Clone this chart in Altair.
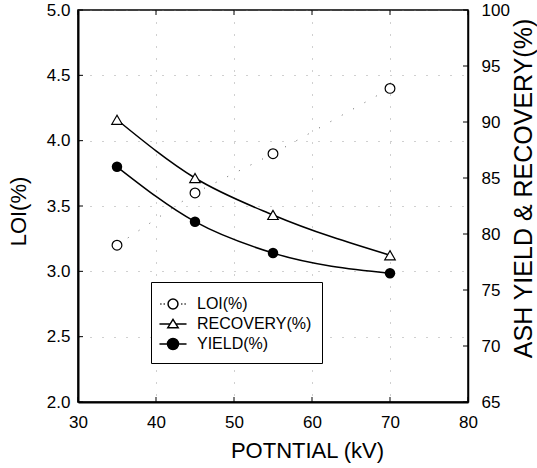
import altair as alt
import pandas as pd

# ---- data ----
potential = [35, 45, 55, 70]
loi = [3.2, 3.6, 3.9, 4.4]
recovery = [90.2, 85.0, 81.7, 78.1]
yield_pct = [86.0, 81.1, 78.3, 76.5]
x_ticks = [30, 40, 50, 60, 70, 80]
loi_ticks = [2.0, 2.5, 3.0, 3.5, 4.0, 4.5, 5.0]
right_ticks = [65, 70, 75, 80, 85, 90, 95, 100]
series = ["LOI(%)", "RECOVERY(%)", "YIELD(%)"]

FONT = "Liberation Sans"
W, H = 390, 392

df = pd.DataFrame({"kv": potential, "loi": loi, "rec": recovery, "yld": yield_pct})
xt = pd.DataFrame({"kv": x_ticks})
lt = pd.DataFrame({"loi": loi_ticks})
rt = pd.DataFrame({"v": right_ticks})

xscale = alt.Scale(domain=[30, 80], nice=False, zero=False)
lscale = alt.Scale(domain=[2, 5], nice=False, zero=False)
rscale = alt.Scale(domain=[65, 100], nice=False, zero=False)

x_axis = alt.Axis(
    values=x_ticks, format="d", title="POTNTIAL (kV)",
    ticks=False, tickSize=0, labelPadding=12, labelFlush=False, labelOverlap=False,
    labelFont=FONT, labelFontSize=17, labelColor="black",
    titleFont=FONT, titleFontSize=22, titleFontWeight="normal", titleColor="black",
    titleX=229, titleY=55, titleAlign="center", titleBaseline="alphabetic",
    domainColor="black", domainWidth=2,
    grid=True, gridColor="#777", gridDash=[1, 11], gridWidth=1, gridOpacity=0.7,
)
left_axis = alt.Axis(
    values=loi_ticks, format=".1f", title="LOI(%)",
    ticks=False, tickSize=0, labelPadding=8, labelFlush=False, labelOverlap=False,
    labelFont=FONT, labelFontSize=17, labelColor="black",
    titleFont=FONT, titleFontSize=22, titleFontWeight="normal", titleColor="black",
    titleAngle=270, titleX=-53, titleY=201, titleAlign="center", titleBaseline="alphabetic",
    domainColor="black", domainWidth=2,
    grid=True, gridColor="#777", gridDash=[1, 11], gridWidth=1, gridOpacity=0.7,
)
right_axis = alt.Axis(
    orient="right", values=right_ticks, format="d", title="ASH YIELD & RECOVERY(%)",
    ticks=False, tickSize=0, labelPadding=13, labelFlush=False, labelOverlap=False,
    labelFont=FONT, labelFontSize=17, labelColor="black",
    titleFont=FONT, titleFontSize=25, titleFontWeight="normal", titleColor="black",
    titleAngle=270, titleX=63, titleY=178, titleAlign="center", titleBaseline="alphabetic",
    domainColor="black", domainWidth=1.5, grid=False,
)

X = alt.X("kv:Q", scale=xscale, axis=x_axis)


def YL(field):
    return alt.Y(f"{field}:Q", scale=lscale, axis=left_axis)


def YR(field):
    return alt.Y(f"{field}:Q", scale=rscale, axis=right_axis)


# ---- left (LOI) group ----
loi_line = alt.Chart(df).mark_line(color="#666", strokeWidth=1, strokeDash=[1, 12]).encode(
    x=X, y=YL("loi")
)
loi_pts = alt.Chart(df).mark_point(
    shape="circle", filled=False, fill="white", color="black", size=95, strokeWidth=1.2, opacity=1
).encode(x=X, y=YL("loi"))
left_ticks = alt.Chart(lt).mark_rule(color="black", strokeWidth=1).encode(
    y=YL("loi"), x=alt.value(0), x2=alt.value(5)
)
bottom_ticks = alt.Chart(xt).mark_rule(color="black", strokeWidth=1).encode(
    x=X, y=alt.value(H), y2=alt.value(H - 5)
)
top_ticks = alt.Chart(xt).mark_rule(color="black", strokeWidth=1).encode(
    x=X, y=alt.value(0), y2=alt.value(5)
)
left = alt.layer(loi_line, left_ticks, bottom_ticks, top_ticks, loi_pts)

# ---- right (yield / recovery) group ----
rec_line = alt.Chart(df).mark_line(interpolate="monotone", color="black", strokeWidth=1.5).encode(
    x=X, y=YR("rec")
)
yld_line = alt.Chart(df).mark_line(interpolate="monotone", color="black", strokeWidth=1.5).encode(
    x=X, y=YR("yld")
)
rec_pts = alt.Chart(df).mark_point(
    shape="triangle-up", filled=False, fill="white", color="black", size=110, strokeWidth=1.2, opacity=1
).encode(x=X, y=YR("rec"))
yld_pts = alt.Chart(df).mark_point(
    shape="circle", filled=True, color="black", size=110, opacity=1
).encode(x=X, y=YR("yld"))
right_tick_marks = alt.Chart(rt).mark_rule(color="black", strokeWidth=1).encode(
    y=YR("v"), x=alt.value(W), x2=alt.value(W - 5)
)

# legend symbols: line segment + marker (custom SVG paths)
sym_loi = ("M-1.15,0L-1.05,0M-0.85,0L-0.75,0M0.75,0L0.85,0M1.05,0L1.15,0"
           "M-0.45,0A0.45,0.45,0,1,1,0.45,0A0.45,0.45,0,1,1,-0.45,0Z")
sym_rec = "M-1.23,0L-0.26,0M0.26,0L1.23,0M0,-0.42L-0.47,0.33L0.47,0.33Z"
sym_yld = ("M-1.23,0L-0.5,0M0.5,0L1.23,0"
           "M-0.5,0A0.5,0.5,0,1,1,0.5,0A0.5,0.5,0,1,1,-0.5,0Z")

legend = alt.Legend(
    orient="none", legendX=73, legendY=272, title=None,
    strokeColor="black", fillColor="white", padding=10,
    labelFont=FONT, labelFontSize=16, labelColor="black", labelOffset=12,
    symbolSize=484, symbolStrokeWidth=1.5, symbolStrokeColor="black", rowPadding=0,
)
legend_layer = alt.Chart(df).transform_calculate(s="'none'").transform_filter("false").mark_point(
    stroke="black", strokeWidth=1.5, opacity=1, filled=False
).encode(
    shape=alt.Shape("s:N", scale=alt.Scale(domain=series, range=[sym_loi, sym_rec, sym_yld]), legend=legend),
    fill=alt.Fill("s:N", scale=alt.Scale(domain=series, range=["white", "white", "black"]), legend=legend),
    stroke=alt.Stroke("s:N", scale=alt.Scale(domain=series, range=["black", "black", "black"]), legend=legend),
)

right = alt.layer(rec_line, yld_line, right_tick_marks, rec_pts, yld_pts, legend_layer)

chart = (
    alt.layer(left, right)
    .resolve_scale(y="independent")
    .properties(
        width=W, height=H,
        padding={"left": 78, "top": 10, "right": 69, "bottom": 66},
        autosize=alt.AutoSizeParams(type="none"),
        background="white",
    )
    .configure(font=FONT)
    .configure_view(stroke="black", strokeWidth=1.5)
)

chart.save("out.html", embed_options={"renderer": "svg", "actions": False})
